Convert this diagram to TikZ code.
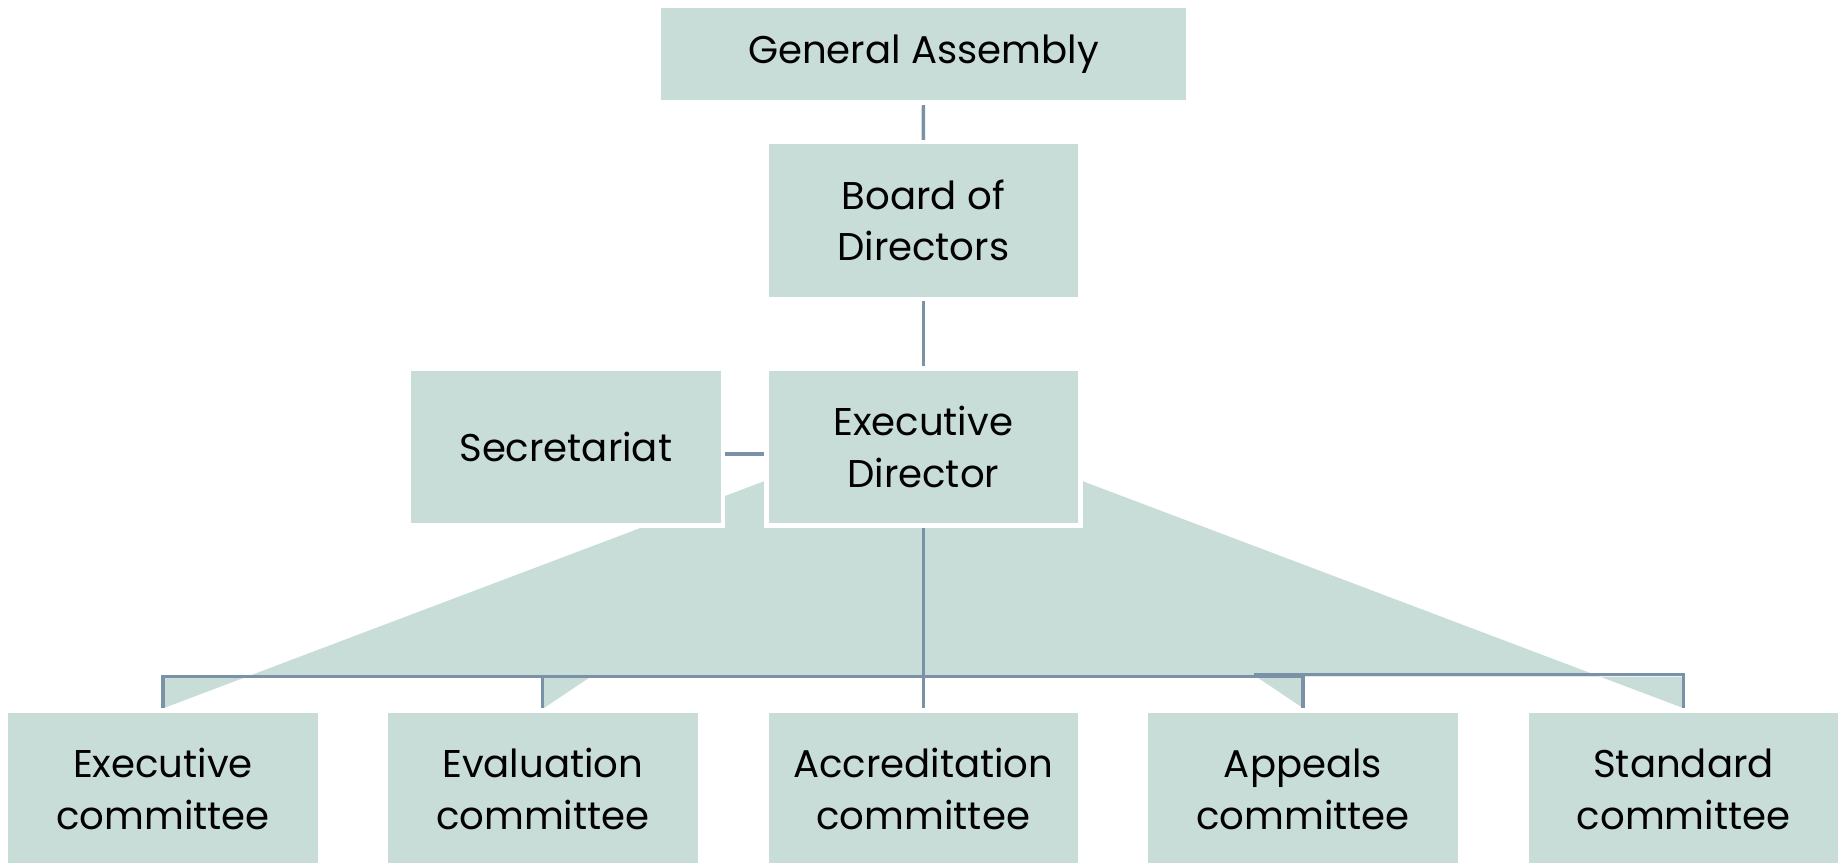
\documentclass[tikz,border=0pt]{standalone}
\usepackage{fontspec}
\setmainfont{Poppins}
\definecolor{boxfill}{HTML}{C9DDD8}
\definecolor{linec}{HTML}{7A91A8}
\pgfdeclarelayer{bg}
\pgfdeclarelayer{conn}
\pgfsetlayers{bg,conn,main}
\begin{document}
\begin{tikzpicture}[x=0.75pt,y=-0.75pt,
  box/.style={draw=white, line width=3.375pt, fill=boxfill, inner sep=0pt, outer sep=0pt,
    minimum width=235.5pt, minimum height=117.4pt, align=center,
    font=\fontsize{29pt}{38.8pt}\selectfont, text=black},
  conn/.style={draw=linec, line width=2.6pt}]
\useasboundingbox (0,0) rectangle (1841,863);

% boxes
\node[box, minimum width=397.1pt, minimum height=72.4pt] (ga) at (923.5,54) {General Assembly};
\node[box] (bod) at (923.25,220.5) {Board of\\Directors};
\node[box] (sec) at (565.75,447) {Secretariat};
\node[box] (ed) at (923.25,447) {Executive\\Director};
\node[box] (exec) at (163,789) {Executive\\committee};
\node[box] (eval) at (542.75,789) {Evaluation\\committee};
\node[box] (acc) at (923.25,789) {Accreditation\\committee};
\node[box] (app) at (1303,789) {Appeals\\committee};
\node[box] (std) at (1683.5,789) {Standard\\committee};

% background fill shapes
\begin{pgfonlayer}{bg}
\fill[boxfill] (164,708) -- (923.5,421) -- (1683,708) -- (1683,676.5) -- (164,676.5) -- cycle;
\fill[boxfill] (544,676.5) -- (591,676.5) -- (544,708) -- cycle;
\fill[boxfill] (1256,676.5) -- (1303,676.5) -- (1303,708) -- cycle;
\end{pgfonlayer}

% connectors
\begin{pgfonlayer}{conn}
\coordinate (bus) at (923.25,676.5);
\coordinate (busr) at (1254,674.5);
\draw[conn] (ga.south) -- (bod.north);
\draw[conn] (bod.south) -- (ed.north);
\draw[conn] ([yshift=-5.25pt]sec.east) -- ([yshift=-5.25pt]ed.west);
\draw[conn] (ed.south) -- (bus) -| (exec.north);
\draw[conn] (bus) -| (eval.north);
\draw[conn] (bus) -- (acc.north);
\draw[conn] (bus) -| (app.north);
\draw[conn] (busr) -| (std.north);
\end{pgfonlayer}
\end{tikzpicture}
\end{document}
